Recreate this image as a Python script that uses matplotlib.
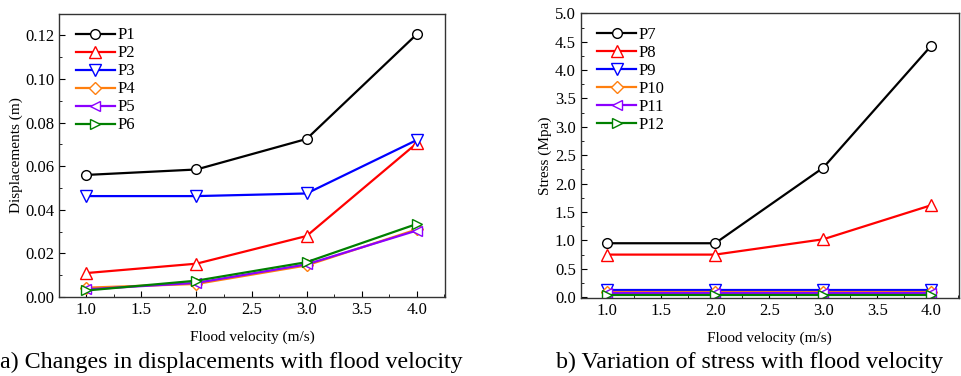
import matplotlib
matplotlib.use("Agg")
import matplotlib.pyplot as plt
from matplotlib.ticker import MultipleLocator, FormatStrFormatter

plt.rcParams['font.family'] = ['Liberation Serif', 'DejaVu Serif']

velocity = [1.0, 2.0, 3.0, 4.0]

disp_labels = ["P1", "P2", "P3", "P4", "P5", "P6"]
P1 = [0.056, 0.0585, 0.0725, 0.1205]
P2 = [0.011, 0.0153, 0.028, 0.0705]
P3 = [0.0463, 0.0463, 0.0475, 0.072]
P4 = [0.0043, 0.0060, 0.0145, 0.0310]
P5 = [0.0035, 0.0065, 0.0150, 0.0305]
P6 = [0.0030, 0.0075, 0.0160, 0.0335]

stress_labels = ["P7", "P8", "P9", "P10", "P11", "P12"]
P7 = [0.95, 0.95, 2.28, 4.43]
P8 = [0.75, 0.75, 1.02, 1.62]
P9 = [0.13, 0.13, 0.13, 0.13]
P10 = [0.09, 0.09, 0.09, 0.09]
P11 = [0.08, 0.08, 0.08, 0.08]
P12 = [0.04, 0.04, 0.04, 0.04]

colors = ["#000000", "#ff0000", "#0000ff", "#ff7f0e", "#8b00ff", "#008000"]
markers = ["o", "^", "v", "D", "<", ">"]
msizes = [7, 8, 8, 6, 7, 7]

fig = plt.figure(figsize=(9.62, 3.76), dpi=100)
ax1 = fig.add_axes([0.0617, 0.210, 0.4009, 0.7527])
ax2 = fig.add_axes([0.6036, 0.2066, 0.3933, 0.758])

for ax, series, labels in [(ax1, [P1, P2, P3, P4, P5, P6], disp_labels),
                           (ax2, [P7, P8, P9, P10, P11, P12], stress_labels)]:
    for ys, lab, c, m, ms in zip(series, labels, colors, markers, msizes):
        ax.plot(velocity, ys, color=c, marker=m, markersize=ms, markerfacecolor='white',
                markeredgecolor=c, markeredgewidth=1.0, linewidth=1.6, label=lab)
    ax.set_xlim(0.755, 4.257)
    ax.xaxis.set_major_locator(MultipleLocator(0.5))
    ax.xaxis.set_minor_locator(MultipleLocator(0.25))
    ax.xaxis.set_major_formatter(FormatStrFormatter('%.1f'))
    ax.tick_params(which='both', direction='in', top=False, right=False, labelsize=12)
    ax.tick_params(which='major', length=4)
    ax.tick_params(which='minor', length=2.5)
    for s in ax.spines.values():
        s.set_linewidth(1.0)
        s.set_color('#333333')
    ax.set_xlabel("Flood velocity (m/s)", fontsize=11, labelpad=9)
    leg = ax.legend(loc='upper left', bbox_to_anchor=(0.018, 0.988), frameon=False,
                    fontsize=12, handlelength=2.3, handletextpad=0.15,
                    labelspacing=0.12, borderaxespad=0.3, borderpad=0.3)

ax1.set_ylim(0, 0.1298)
ax1.yaxis.set_major_locator(MultipleLocator(0.02))
ax1.yaxis.set_minor_locator(MultipleLocator(0.01))
ax1.yaxis.set_major_formatter(FormatStrFormatter('%.2f'))
ax1.set_ylabel("Displacements (m)", fontsize=11, labelpad=2)

ax2.set_ylim(-0.02, 5.0)
ax2.yaxis.set_major_locator(MultipleLocator(0.5))
ax2.yaxis.set_minor_locator(MultipleLocator(0.25))
ax2.yaxis.set_major_formatter(FormatStrFormatter('%.1f'))
ax2.set_ylabel("Stress (Mpa)", fontsize=11, labelpad=2)

fig.text(0.240, 0.037, "a) Changes in displacements with flood velocity", ha='center', va='center', fontsize=17.3)
fig.text(0.779, 0.037, "b) Variation of stress with flood velocity", ha='center', va='center', fontsize=17.3)

fig.savefig("out.png", dpi=100)
